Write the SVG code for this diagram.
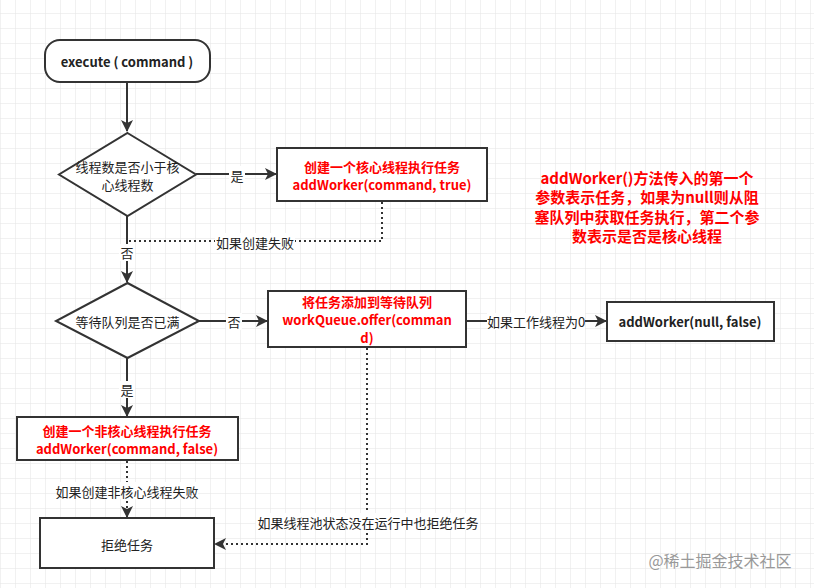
<svg xmlns="http://www.w3.org/2000/svg" width="814" height="588" viewBox="0 0 814 588">
<style>
.shape{fill:#fff;stroke:#333;stroke-width:2}
.line{fill:none;stroke:#333;stroke-width:2}
.dot{fill:none;stroke:#333;stroke-width:2;stroke-dasharray:2 3}
text{font-family:"Noto Sans CJK SC","Noto Sans",sans-serif;font-size:13px;fill:#222;text-anchor:middle;dominant-baseline:central}
.b{font-weight:bold}
.red{fill:#f00;font-weight:bold}
.note{font-size:15px}
.lbl{fill:#fff}
</style>
<defs>
<pattern id="grid" width="15" height="15" patternUnits="userSpaceOnUse" x="0" y="13">
<path d="M0 0H15M0 0V15" stroke="#e4e4e4" stroke-width="1" fill="none"/>
</pattern>
<marker id="arrL" viewBox="0 0 12 12" refX="11" refY="6" markerWidth="12" markerHeight="12" markerUnits="userSpaceOnUse" orient="auto">
<path d="M0 0L12 6L0 12L3 6Z" fill="#333"/>
</marker>
</defs>
<rect width="814" height="588" fill="#fff"/>
<rect width="814" height="588" fill="url(#grid)"/>

<g id="connectors">
<path class="line" d="M127 83V131" marker-end="url(#arrL)"/>
<path class="line" d="M196 174H276" marker-end="url(#arrL)"/>
<rect class="lbl" x="229" y="166" width="16" height="17"/>
<text x="237" y="175">是</text>
<path class="dot" d="M382 202V241H128"/>
<rect class="lbl" x="215" y="233" width="80" height="17"/>
<text x="255" y="242">如果创建失败</text>
<path class="line" d="M127 216V282" marker-end="url(#arrL)"/>
<rect class="lbl" x="119" y="244" width="16" height="17"/>
<text x="127" y="252">否</text>
<path class="line" d="M199 321H267" marker-end="url(#arrL)"/>
<rect class="lbl" x="226" y="313" width="16" height="17"/>
<text x="234" y="321">否</text>
<path class="line" d="M466 321H606" marker-end="url(#arrL)"/>
<rect class="lbl" x="487" y="313" width="98" height="17"/>
<text x="536" y="321">如果工作线程为0</text>
<path class="line" d="M127 358V416" marker-end="url(#arrL)"/>
<rect class="lbl" x="119" y="381" width="16" height="17"/>
<text x="127" y="389">是</text>
<path class="dot" d="M127 461V517" marker-end="url(#arrL)"/>
<rect class="lbl" x="56" y="482" width="142" height="17"/>
<text x="127" y="491">如果创建非核心线程失败</text>
<path class="dot" d="M367 348V544H215" marker-end="url(#arrL)"/>
<rect class="lbl" x="256" y="513" width="224" height="17"/>
<text x="368" y="522">如果线程池状态没在运行中也拒绝任务</text>
</g>

<g id="start">
<rect class="shape" x="45" y="40" width="165" height="42" rx="15"/>
<text class="b" x="127" y="61">execute ( command )</text>
</g>
<g id="cond1">
<path class="shape" d="M127.5 133L196 174.5L127.5 216L59 174.5Z"/>
<text x="127.5" y="166">线程数是否小于核</text>
<text x="127.5" y="184">心线程数</text>
</g>
<g id="core">
<rect class="shape" x="277" y="148" width="210" height="53"/>
<text class="red" x="382" y="166">创建一个核心线程执行任务</text>
<text class="red" x="382" y="184">addWorker(command, true)</text>
</g>
<g id="cond2">
<path class="shape" d="M127.5 283L199 321L127.5 358L56 321Z"/>
<text x="127.5" y="321">等待队列是否已满</text>
</g>
<g id="queue">
<rect class="shape" x="268" y="291" width="198" height="56"/>
<text class="red" x="367" y="301">将任务添加到等待队列</text>
<text class="red" x="367" y="319">workQueue.offer(comman</text>
<text class="red" x="367" y="337">d)</text>
</g>
<g id="nullworker">
<rect class="shape" x="607" y="302" width="167" height="39"/>
<text class="b" x="690" y="321">addWorker(null, false)</text>
</g>
<g id="noncore">
<rect class="shape" x="17" y="417" width="221" height="43"/>
<text class="red" x="127" y="430">创建一个非核心线程执行任务</text>
<text class="red" x="127" y="448">addWorker(command, false)</text>
</g>
<g id="reject">
<rect class="shape" x="40" y="518" width="174" height="50"/>
<text x="127" y="544">拒绝任务</text>
</g>
<g id="note">
<text class="red note" x="647" y="177">addWorker()方法传入的第一个</text>
<text class="red note" x="647" y="196.5">参数表示任务，如果为null则从阻</text>
<text class="red note" x="647" y="216">塞队列中获取任务执行，第二个参</text>
<text class="red note" x="647" y="235.5">数表示是否是核心线程</text>
</g>
<text x="720" y="560" style="font-size:16px;fill:#999">@稀土掘金技术社区</text>
</svg>
